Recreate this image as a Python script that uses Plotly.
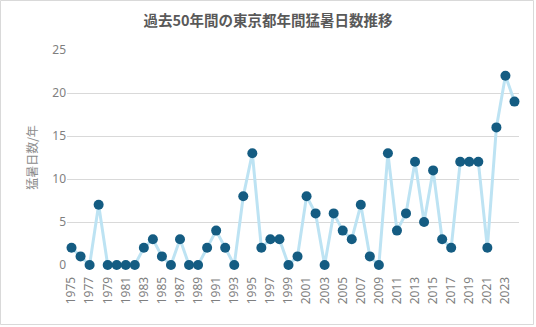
import plotly.graph_objects as go

years = list(range(1975, 2025))
days = [2, 1, 0, 7, 0, 0, 0, 0, 2, 3,
        1, 0, 3, 0, 0, 2, 4, 2, 0, 8,
        13, 2, 3, 3, 0, 1, 8, 6, 0, 6,
        4, 3, 7, 1, 0, 13, 4, 6, 12, 5,
        11, 3, 2, 12, 12, 12, 2, 16, 22, 19]
title_text = "過去50年間の東京都年間猛暑日数推移"
y_title = "猛暑日数/年"

W, H = 536, 327
ml, mr, mt, mb = 67, 17, 50, 62

fig = go.Figure()
fig.add_trace(go.Scatter(
    x=years, y=days, mode="lines+markers",
    line=dict(color="#BDE3F3", width=3),
    marker=dict(color="#145C82", size=10),
    cliponaxis=False, showlegend=False,
))

fig.update_layout(
    width=W, height=H,
    margin=dict(l=ml, r=mr, t=mt, b=mb),
    paper_bgcolor="white", plot_bgcolor="white",
    font=dict(family="Noto Sans CJK JP, Noto Sans, sans-serif", color="#7f7f7f"),
    title=dict(text=title_text, x=0.5, xanchor="center", y=0.935, yanchor="middle",
               font=dict(size=14.5, color="#595959", weight="bold")),
    xaxis=dict(range=[1974.5, 2024.5], tick0=1975, dtick=2, tickangle=-90,
               showgrid=False, zeroline=False, showline=False,
               ticks="outside", ticklen=6, tickcolor="rgba(0,0,0,0)",
               tickfont=dict(size=12, color="#7f7f7f", family="Noto Sans")),
    yaxis=dict(range=[0, 25], dtick=5, showgrid=True, gridcolor="#d9d9d9",
               gridwidth=1, zeroline=False, showline=False, ticks="",
               tickfont=dict(size=12, color="#7f7f7f", family="Noto Sans"),
               title=dict(text=y_title, font=dict(size=12, color="#8c8c8c"), standoff=12)),
    shapes=[dict(type="rect", xref="paper", yref="paper",
                 x0=-ml / (W - ml - mr) + 0.5 / (W - ml - mr),
                 x1=1 + (mr - 2.5) / (W - ml - mr),
                 y0=-(mb - 2.5) / (H - mt - mb),
                 y1=1 + (mt - 0.5) / (H - mt - mb),
                 line=dict(color="#d9d9d9", width=1))],
)

fig.write_html("out.html")
